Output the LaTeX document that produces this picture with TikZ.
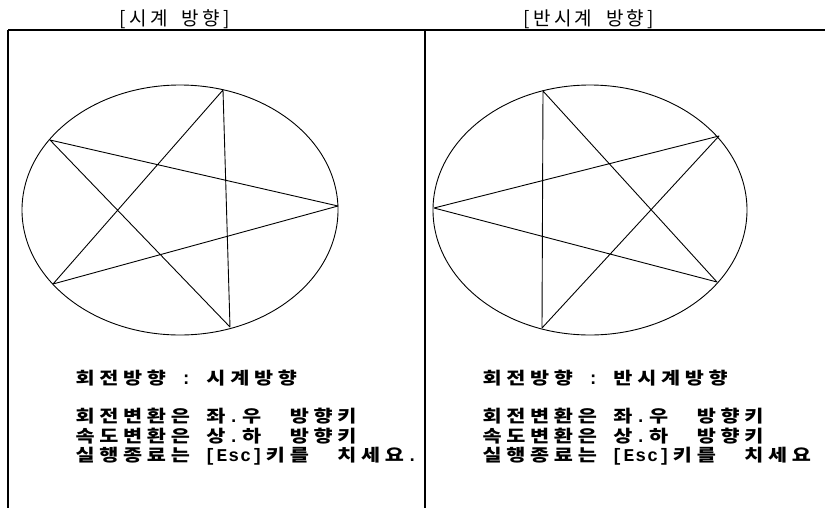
\documentclass[tikz,border=0pt]{standalone}
\usepackage{fontspec}
\usepackage{graphicx}
\usetikzlibrary{shapes.geometric}
\newfontfamily\kr{Noto Sans CJK KR}
\newfontfamily\asc{Liberation Mono}
\newdimen\mw
\def\hsc{1}
\def\ascfont{\asc}
\def\mono#1{\monoloop#1\relax}
\def\monoloop#1{\ifx#1\relax\else\monochar#1\expandafter\monoloop\fi}
\def\monochar#1{\ifx#1_\hbox to\mw{\hss}\else\ifnum`#1>127 \hbox to 2\mw{\hss\scalebox{\hsc}[1]{#1}\hss}\else\hbox to\mw{\hss\ascfont#1\hss}\fi\fi}
\tikzset{
  frameline/.style={line width=1.2pt, black},
  shape line/.style={line width=0.9pt, black},
  titletext/.style={anchor=base west, inner sep=0pt, font=\kr\fontsize{19}{19}\selectfont},
  infotext/.style={anchor=base west, inner sep=0pt, font=\kr\bfseries\fontsize{17}{17}\selectfont}
}
\newcommand\infoline[1]{\mw=11.9pt\def\hsc{1.22}\def\ascfont{\asc\bfseries\fontsize{18}{18}\selectfont}\mono{#1}}
\begin{document}
\begin{tikzpicture}[x=1pt,y=-1pt]
\useasboundingbox (0,0) rectangle (825,507);
\fill[white] (0,0) rectangle (825,507);
% frame
\coordinate (tl) at (8,30);
\coordinate (tr) at (826,30);
\coordinate (bl) at (8,508);
\coordinate (mt) at (425,30);
\coordinate (mb) at (425,508);
\draw[frameline, line width=1.8pt] (tl) -- (bl);
\draw[frameline, line width=1.5pt] (tl) -- (tr);
\draw[frameline, line width=1.1pt] (mt) -- (mb);
% titles
\node[titletext] (t1) at (117,25.5) {\mw=10.45pt\def\ascfont{}\mono{[시계_방향]}};
\node[titletext] (t2) at (521,25.5) {\mw=10.4pt\def\ascfont{}\mono{[반시계_방향]}};
% left ellipse and star
\node[draw, shape line, ellipse, minimum width=316pt, minimum height=250pt, inner sep=0pt] (e1) at (180,210) {};
\coordinate (a1) at (223,90);
\coordinate (a2) at (50,140);
\coordinate (a3) at (338,206);
\coordinate (a4) at (53,284);
\coordinate (a5) at (230,327);
\draw[shape line, line join=round] (a1) -- (a4) -- (a3) -- (a2) -- (a5) -- cycle;
% right ellipse and star
\node[draw, shape line, ellipse, minimum width=314pt, minimum height=250pt, inner sep=0pt] (e2) at (590,210) {};
\coordinate (b1) at (543,91);
\coordinate (b2) at (719,136);
\coordinate (b3) at (434,208);
\coordinate (b4) at (717,282);
\coordinate (b5) at (542,328);
\draw[shape line, line join=round] (b1) -- (b4) -- (b3) -- (b2) -- (b5) -- cycle;
% texts left
\node[infotext] (l1) at (73,384.5) {\infoline{회전방향_:_시계방향}};
\node[infotext] (l2) at (73,422.5) {\infoline{회전변환은_좌.우__방향키}};
\node[infotext] (l3) at (73,442) {\infoline{속도변환은_상.하__방향키}};
\node[infotext] (l4) at (73,461.5) {\infoline{실행종료는_[Esc]키를__치세요.}};
% texts right
\node[infotext] (r1) at (480,384.5) {\infoline{회전방향_:_반시계방향}};
\node[infotext] (r2) at (480,422.5) {\infoline{회전변환은_좌.우__방향키}};
\node[infotext] (r3) at (480,442) {\infoline{속도변환은_상.하__방향키}};
\node[infotext] (r4) at (480,461.5) {\infoline{실행종료는_[Esc]키를__치세요}};
\end{tikzpicture}
\end{document}
